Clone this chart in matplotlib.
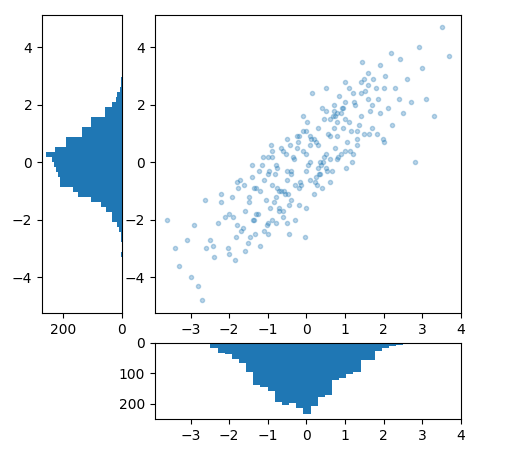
import numpy as np
import matplotlib
matplotlib.use("Agg")
from matplotlib import pyplot as plt
from matplotlib.ticker import MultipleLocator

# scatter points (hand-read, sparse sample of the cloud)
pts_x = [3.5, 3.7, -3.6, -3.3, -2.7, 2.8, -3.0, 3.0, 2.6, -2.9, 2.2, -2.4,
         0.0, 0.1, -0.2, 0.3, -0.4, 0.5, -0.6, 0.7, -0.8, 0.9, -1.0, 1.1,
         -1.2, 1.3, -1.4, 1.5, -1.6, 1.7, -1.8, 1.9, -2.0, 2.1, 0.2, -0.1,
         0.4, -0.3, 0.6, -0.5, 0.8, -0.7, 1.0, -0.9, 1.2, -1.1, 1.4, -1.3,
         1.6, -1.5, 0.05, -0.15, 0.25, -0.35, 0.45, -0.55, 0.65, -0.75, 0.85, -0.95,
         1.05, -1.05, 1.25, -1.25, 1.45, -1.45, 1.65, -1.65, 1.85, -1.85, 0.15, -0.05,
         0.35, -0.25, 0.55, -0.45, 0.75, -0.65, 0.95, -0.85, 1.15, -1.15, 1.35, -1.35,
         2.3, -2.2, 2.5, -2.5, 0.0, 0.3, -0.3, 0.6, -0.6, 0.9, -0.9, 1.2,
         -1.2, 0.1, -0.1, 0.4, -0.4, 0.7, -0.7, 1.0, -1.0, 0.2, -0.2, 0.5,
         -0.5, 0.8, -0.8, 1.1, -1.1, 1.5, -1.5, 1.8, -1.8, 2.0, -2.1, 0.0,
         0.25, -0.25, 0.5, -0.5, 0.75, -0.75, 1.3, -1.3, 1.7, -1.7, 2.4, -2.3,
         0.1, -0.4, 0.6, -0.9, 1.4, -1.9, 0.35, -0.65, 0.95, -1.35, 2.7, -2.6,
         -0.2, 0.3, 0.8, -0.8, 1.6, -1.6, 0.0, 0.45, -0.45, 1.0, -1.0, 1.9,
         0.12, -0.32, 0.52, -0.72, 0.92, -1.12, 1.32, -1.52, 1.72, -1.92, 0.22, -0.42,
         0.62, -0.82, 1.02, -1.22, 1.42, -1.62, 1.82, -2.02, 0.02, -0.22, 0.42, -0.62,
         0.82, -1.02, 1.22, -1.42, 1.62, -1.82, 2.02, -2.22, 0.32, -0.52, 0.72, -0.92,
         1.12, -1.32, 1.52, -1.72, 2.22, -2.42, 2.42, -2.62, 0.08, -0.18, 0.38, -0.58,
         0.78, -0.98, 1.18, -1.38, 1.58, -1.78, 1.98, -0.08, 0.28, -0.48, 0.68, -0.88,
         3.1, -3.1, 2.9, -2.8, 3.3, -3.4, 2.0, -2.0, 1.0, -1.0, 0.5, -0.5]
pts_y = [4.7, 3.7, -2.0, -3.6, -4.8, 0.0, -4.0, 3.3, 2.9, -2.2, 3.8, -3.3,
         0.3, -0.6, 0.9, 1.2, -1.3, -0.2, 0.4, 2.0, -2.1, 0.3, -0.4, 2.6,
         -2.9, 0.8, -0.5, 2.9, -3.1, 1.2, -0.7, 3.4, -1.8, 1.9, -1.1, 1.6,
         1.9, -2.0, -0.7, 0.8, 1.4, -1.7, 2.1, 0.2, 0.3, -2.4, 1.6, -0.9,
         3.1, -1.4, -0.1, -0.8, 0.7, 0.2, 1.5, -1.1, -0.3, -0.2, 2.3, -1.6,
         0.7, -1.3, 2.0, -1.8, 3.5, -2.6, 1.8, -2.3, 2.2, -3.4, 2.4, -2.6,
         -0.4, 0.9, 1.0, -2.5, 0.5, 0.5, 1.2, -1.4, 1.1, -0.1, 1.3, -2.0,
         2.6, -1.4, 1.7, -2.7, 1.1, 0.6, -0.8, 0.1, -1.9, 1.7, -0.8, 2.4,
         -1.0, 0.0, 0.4, -0.9, -0.3, 1.2, -1.0, 0.4, 0.2, 0.8, -1.5, 0.3,
         -0.6, 0.1, -1.2, 1.4, -0.6, 1.0, -1.2, 2.6, -2.2, 2.6, -1.9, -1.6,
         -0.5, 0.5, 1.8, -0.3, 1.6, -0.9, 1.1, -1.8, 2.0, -2.4, 2.2, -2.1,
         0.6, -0.4, 0.9, -2.0, 2.8, -1.9, 0.0, -1.0, 1.9, -0.9, 2.1, -3.0,
         -0.9, -0.2, 0.9, -0.1, 2.2, -1.7, -0.3, 0.2, -1.5, 1.5, -2.1, 1.7,
         0.8, 0.1, -0.3, -1.6, 1.9, 0.2, 0.6, -2.8, 2.9, -1.2, -0.7, 0.6,
         1.5, -0.4, -0.2, -0.3, 2.4, -0.8, 1.0, -3.0, 1.4, 0.7, 0.0, -1.7,
         0.2, -2.2, 2.1, -0.1, 1.0, -2.6, 3.0, -1.1, -0.4, 0.3, 1.8, 0.6,
         0.4, -2.5, 2.5, -0.6, 1.3, -2.9, 3.6, -1.3, 0.9, -0.7, -0.1, -1.0,
         1.7, -0.3, 0.0, -2.0, 2.7, -0.9, 0.8, 1.1, -0.8, -1.1, 1.6, 0.4,
         2.2, -2.7, 4.0, -4.3, 1.6, -3.0, 0.7, -3.2, 2.8, -2.5, 2.6, -2.1]

# bottom histogram (x marginal), counts per bin, left edge and bin width
hx_start = -2.67
hx_width = 0.185
hx_counts = [3, 18, 32, 35, 53, 66, 95, 139, 144, 158, 193, 203, 196, 214,
             235, 207, 176, 171, 121, 116, 102, 95, 56, 56, 26, 16, 10, 8]

# left histogram (y marginal), counts per bin from the top edge downward
hy_top = 2.98
hy_width = 0.174
hy_counts = [2, 2, 8, 16, 21, 33, 58, 58, 104, 104, 134, 134, 190, 190,
             225, 255, 235, 230, 222, 216, 210, 210, 165, 149, 104, 70, 53, 33,
             33, 17, 10, 4, 4, 0, 0, 2]

W, H = 516, 461
fig = plt.figure(figsize=(W / 100, H / 100), dpi=100)

def box(l, r, t, b):
    return [l / W, 1 - b / H, (r - l) / W, (b - t) / H]

main_ax = fig.add_axes(box(155, 461, 15, 313))
y_hist = fig.add_axes(box(42, 122, 15, 313), sharey=main_ax)
x_hist = fig.add_axes(box(155, 461, 343, 419), sharex=main_ax)

main_ax.plot(pts_x, pts_y, 'o', markersize=3, alpha=0.3)
main_ax.set_xlim(-3.92, 4.0)
main_ax.set_ylim(-5.25, 5.13)
main_ax.xaxis.set_major_locator(MultipleLocator(1))

xl = hx_start + hx_width * np.arange(len(hx_counts))
x_hist.bar(xl, hx_counts, width=hx_width, align='edge', color='C0')
x_hist.set_ylim(250, 0)
x_hist.set_yticks([0, 100, 200])

yl = hy_top - hy_width * (np.arange(len(hy_counts)) + 1)
y_hist.barh(yl, hy_counts, height=hy_width, align='edge', color='C0')
y_hist.set_xlim(270, 0)
y_hist.set_xticks([200, 0])

plt.savefig("out.png", dpi=100)
